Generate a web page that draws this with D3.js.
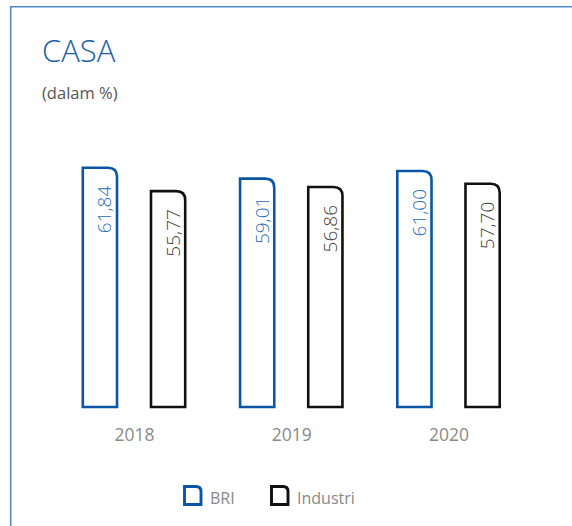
<!DOCTYPE html>
<html>
<head>
<meta charset="utf-8">
<script src="https://cdn.jsdelivr.net/npm/d3@7"></script>
<style>
  body { margin: 0; background: #fff; }
  svg { display: block; font-family: "Open Sans", sans-serif; }
</style>
</head>
<body>
<svg id="casa-svg" width="572" height="526"></svg>
<script>
// ==========================================================================
// DATA
// ==========================================================================

var years = ["2018", "2019", "2020"]
var series = ["BRI", "Industri"]
var briValues = [61.84, 59.01, 61.00]
var industriValues = [55.77, 56.86, 57.70]
var valueLabels = {
  BRI: ["61,84", "59,01", "61,00"],
  Industri: ["55,77", "56,86", "57,70"]
}

var strokeColor = {BRI: "#0b56a4", Industri: "#111111"}
var labelColor = {BRI: "#2b6db6", Industri: "#3c3c3c"}

// ==========================================================================
// HELPERS
// ==========================================================================

// rect path with only the top-right corner rounded
function barPath(x, y, w, h, r) {
  return "M" + x + "," + (y + h) +
    "V" + y +
    "H" + (x + w - r) +
    "Q" + (x + w) + "," + y + " " + (x + w) + "," + (y + r) +
    "V" + (y + h) + "Z"
};

// ==========================================================================
// D3 MAIN
// ==========================================================================

function drawChart() {
  var svg = d3.select("#casa-svg")

  // frame: top + left line only
  svg.append("path")
  .attr("d", "M10.7,526V6.7H572")
  .attr("fill", "none").attr("stroke", "#4f89c7").attr("stroke-width", 1.6)

  svg.append("text").text("CASA")
  .attr("x", 42).attr("y", 62)
  .attr("font-size", 31).attr("font-weight", 300).attr("fill", "#1d5ea8")

  svg.append("text").text("(dalam %)")
  .attr("x", 42).attr("y", 99)
  .attr("font-size", 16.5).attr("fill", "#555")

  var rows = years.map(function(y, i) {
    return {year: y, BRI: briValues[i], Industri: industriValues[i], idx: i}
  })

  // scales
  var x0 = d3.scalePoint().domain(years).range([134, 448.5])
  var groupWidth = 105
  var x1 = d3.scaleBand().domain(series).range([0, groupWidth]).paddingInner(0.46)
  var yScale = d3.scaleLinear().domain([0, 100]).range([407, 20])

  var groups = svg.selectAll("g.year").data(rows).enter().append("g")
  .attr("class", "year")
  .attr("transform", d => "translate(" + (x0(d.year) - groupWidth / 2) + ",0)")

  var bars = groups.selectAll("g.bar")
  .data(d => series.map(s => ({key: s, value: d[s], idx: d.idx})))
  .enter().append("g").attr("class", "bar")

  bars.append("path")
  .attr("d", d => barPath(x1(d.key) + 1.3, yScale(d.value), x1.bandwidth() - 2.6, yScale(0) - yScale(d.value), 9))
  .attr("fill", "#fff")
  .attr("stroke", d => strokeColor[d.key])
  .attr("stroke-width", 2.6)

  bars.append("text")
  .text(d => valueLabels[d.key][d.idx])
  .attr("transform", d => "translate(" + (x1(d.key) + x1.bandwidth() - 7) + "," + (yScale(d.value) + 18) + ") rotate(-90)")
  .attr("text-anchor", "end")
  .attr("font-size", 19).attr("font-weight", 300)
  .attr("fill", d => labelColor[d.key])

  // year axis (no line, no ticks)
  var xAxis = d3.axisBottom(x0).tickSize(0).tickPadding(0)
  var axisG = svg.append("g").attr("transform", "translate(0,429)").call(xAxis)
  axisG.select(".domain").remove()
  axisG.selectAll("text")
  .attr("font-size", 17.5).attr("fill", "#8a8a8a")
  .attr("font-family", "Open Sans, sans-serif").attr("dy", "0.71em")

  // legend
  var legendX = d3.scaleOrdinal().domain(series).range([184, 271])
  var legend = svg.selectAll("g.legend").data(series).enter().append("g")
  .attr("class", "legend")
  .attr("transform", d => "translate(" + legendX(d) + ",486)")

  legend.append("path")
  .attr("d", barPath(0.5, 0.5, 16.5, 18, 5))
  .attr("fill", "#fff")
  .attr("stroke", d => strokeColor[d])
  .attr("stroke-width", 2.9)

  legend.append("text").text(d => d)
  .attr("x", 26).attr("y", 18)
  .attr("font-size", 16).attr("fill", "#888")
};

window.onload = function() {
  drawChart()
};
</script>
</body>
</html>
